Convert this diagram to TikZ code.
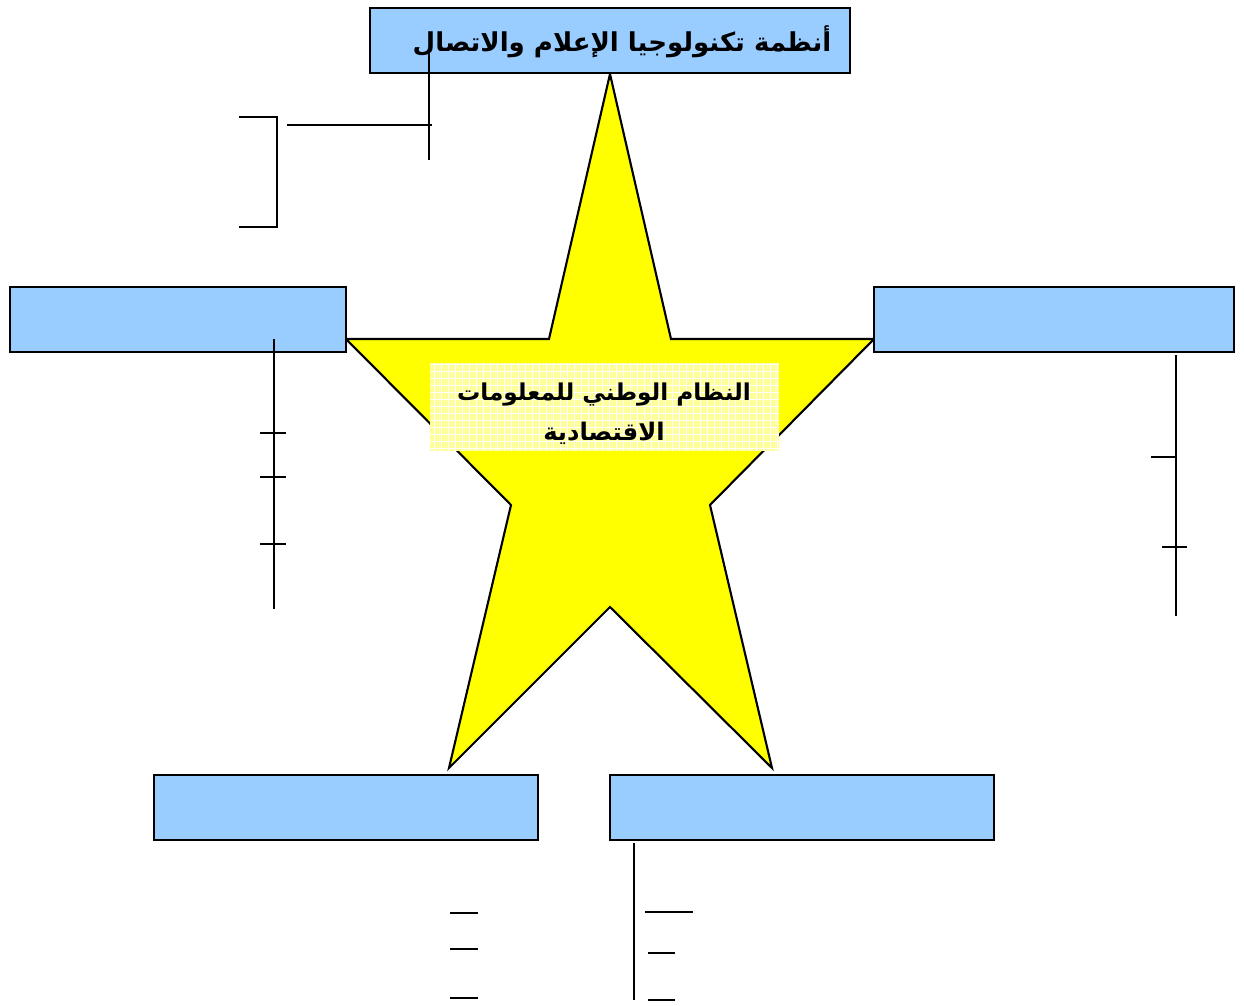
\documentclass[tikz,border=0pt]{standalone}
\usepackage{fontspec}
\usetikzlibrary{positioning, calc}
\TeXXeTstate=1
\newfontfamily\arabicfont[Script=Arabic]{DejaVu Sans}
\definecolor{boxblue}{HTML}{99CCFF}
\definecolor{staryellow}{HTML}{FFFF00}
\definecolor{paleyellow}{HTML}{FFFF99}

\begin{document}
\begin{tikzpicture}[x=0.01cm,y=-0.01cm,line width=0.6pt,
			blue box/.style={rectangle,draw,fill=boxblue,minimum width=#1,minimum height=0.65cm,inner sep=0pt},
			arab/.style={font=\arabicfont\bfseries\fontsize{6.6}{11.4}\selectfont,align=center}]
			
			\useasboundingbox (0,0) rectangle (1244,1006);
			
			% star
			\draw[fill=staryellow] (610,74) -- (671,339) -- (874,339) -- (710,505) -- (772,768)
			-- (610,607) -- (449,768) -- (511,505) -- (346,339) -- (549,339) -- cycle;
			
			% centre label
			\begin{scope}
				\clip (430,363) rectangle (779,451);
				\fill[paleyellow] (430,363) rectangle (779,451);
				\draw[white,line width=0.3pt,step=0.07cm] (430,363) grid (779,451);
				\node[arab] (centre) at (604,414) {\beginR النظام الوطني للمعلومات\endR\\
					{\fontsize{6.9}{11.4}\selectfont\beginR الاقتصادية\endR}};
			\end{scope}
			
			\node[blue box=4.8cm] (top) at (610,40.5) {};
			\node[arab,font=\arabicfont\bfseries\fontsize{7.4}{11}\selectfont] (toptext) at (622,42) {\beginR أنظمة تكنولوجيا الإعلام والاتصال\endR};
			\node[blue box=3.36cm] (left) at (178,319.5) {};
			\node[blue box=3.6cm] (right) at (1054,319.5) {};
			\node[blue box=3.84cm] (botleft) at (346,807.5) {};
			\node[blue box=3.84cm] (botright) at (802,807.5) {};
			
			% top lines
			\draw (429,52) -- (429,160);
			\draw (287,125) -- (432,125);
			\draw (239,117) -- (277,117) -- (277,227) -- (239,227);
			
			% left lines
			\draw (274,339) -- (274,609);
			\foreach \y in {433,477,544}
			\draw (260,\y) -- (286,\y);
			
			% right lines
			\draw (1176,355) -- (1176,616);
			\draw (1151,457) -- (1176,457);
			\draw (1162,547) -- (1187,547);
			
			% bottom lines
			\foreach \y in {913,949,998}
			\draw (450,\y) -- (478,\y);
			\draw (634,843) -- (634,1000);
			\draw (645,912) -- (693,912);
			\draw (648,953) -- (675,953);
			\draw (648,1000) -- (675,1000);
		\end{tikzpicture}
\end{document}
